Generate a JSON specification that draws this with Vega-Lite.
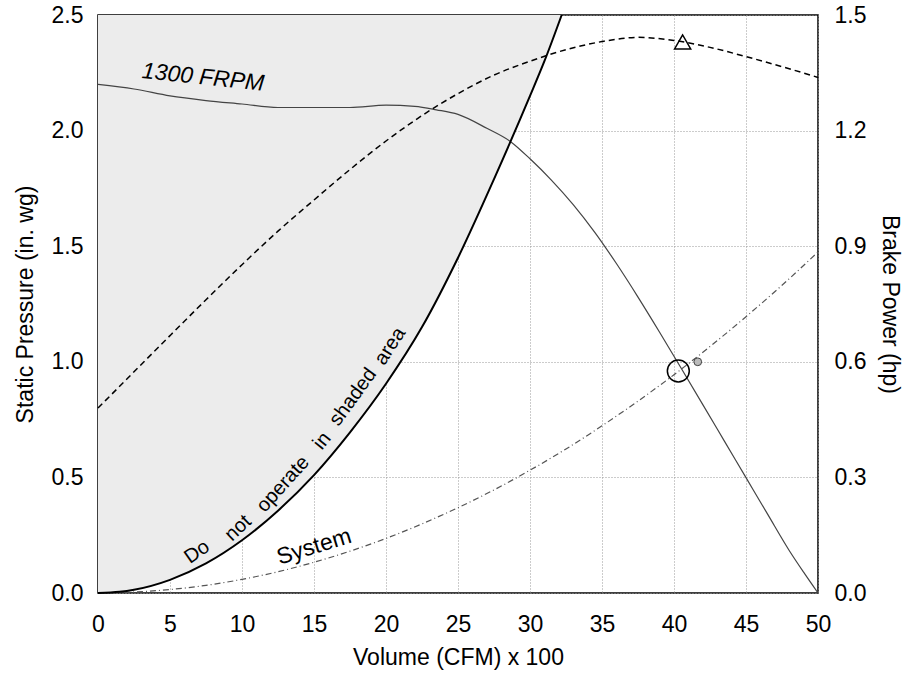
{
  "$schema": "https://vega.github.io/schema/vega-lite/v6.json",
  "width": 720,
  "height": 578,
  "autosize": "none",
  "padding": {"left": 98, "top": 15, "right": 98, "bottom": 85},
  "background": "white",
  "config": {
    "font": "Liberation Sans",
    "view": {"stroke": "#000", "strokeWidth": 1.5},
    "axis": {
      "labelFont": "Liberation Sans",
      "labelFontSize": 23,
      "labelColor": "#000",
      "labelFlush": false,
      "ticks": false,
      "tickSize": 0,
      "domain": false,
      "titleFont": "Liberation Sans",
      "titleFontSize": 23,
      "titleFontWeight": "normal",
      "titleColor": "#000",
      "gridColor": "#999",
      "gridDash": [1, 2],
      "gridWidth": 1
    }
  },
  "datasets": {
    "surge": [
      {"x": 0, "v": 0}, {"x": 1.5, "v": 0.005}, {"x": 2.5, "v": 0.014}, {"x": 5, "v": 0.057}, {"x": 7.5, "v": 0.128},
      {"x": 10, "v": 0.228}, {"x": 12.5, "v": 0.356}, {"x": 15, "v": 0.51}, {"x": 17.5, "v": 0.695},
      {"x": 20, "v": 0.905}, {"x": 22.5, "v": 1.15}, {"x": 25, "v": 1.45}, {"x": 27.5, "v": 1.79},
      {"x": 30, "v": 2.15}, {"x": 31, "v": 2.3}, {"x": 32.2, "v": 2.5}
    ],
    "fan": [
      {"x": 0, "v": 2.2}, {"x": 2.5, "v": 2.18}, {"x": 5, "v": 2.15}, {"x": 7.5, "v": 2.13}, {"x": 10, "v": 2.115},
      {"x": 12.5, "v": 2.1}, {"x": 15, "v": 2.1}, {"x": 17.5, "v": 2.1}, {"x": 20, "v": 2.11}, {"x": 22, "v": 2.105},
      {"x": 23.5, "v": 2.09}, {"x": 25, "v": 2.07}, {"x": 27, "v": 2.01}, {"x": 28.7, "v": 1.95}, {"x": 30, "v": 1.878},
      {"x": 31.5, "v": 1.785}, {"x": 33, "v": 1.68}, {"x": 34.5, "v": 1.56}, {"x": 36, "v": 1.425}, {"x": 37.5, "v": 1.28},
      {"x": 39, "v": 1.128}, {"x": 40.5, "v": 0.972}, {"x": 42, "v": 0.815}, {"x": 43.5, "v": 0.657}, {"x": 45, "v": 0.499},
      {"x": 46.5, "v": 0.341}, {"x": 48, "v": 0.184}, {"x": 49, "v": 0.09}, {"x": 50, "v": 0}
    ],
    "system": [
      {"x": 0, "v": 0}, {"x": 2.5, "v": 0.004}, {"x": 5, "v": 0.015}, {"x": 7.5, "v": 0.033}, {"x": 10, "v": 0.059},
      {"x": 12.5, "v": 0.092}, {"x": 15, "v": 0.133}, {"x": 17.5, "v": 0.181}, {"x": 20, "v": 0.236},
      {"x": 22.5, "v": 0.299}, {"x": 25, "v": 0.369}, {"x": 27.5, "v": 0.446}, {"x": 30, "v": 0.531},
      {"x": 32.5, "v": 0.623}, {"x": 35, "v": 0.723}, {"x": 37.5, "v": 0.83}, {"x": 40, "v": 0.944},
      {"x": 42.5, "v": 1.066}, {"x": 45, "v": 1.195}, {"x": 47.5, "v": 1.331}, {"x": 50, "v": 1.475}
    ],
    "power": [
      {"x": 0, "hp": 0.48}, {"x": 2.5, "hp": 0.574}, {"x": 5, "hp": 0.668}, {"x": 7.5, "hp": 0.761}, {"x": 10, "hp": 0.852},
      {"x": 12.5, "hp": 0.939}, {"x": 15, "hp": 1.02}, {"x": 17.5, "hp": 1.099}, {"x": 20, "hp": 1.173}, {"x": 22.5, "hp": 1.239},
      {"x": 25, "hp": 1.296}, {"x": 27.5, "hp": 1.344}, {"x": 30, "hp": 1.38}, {"x": 32.5, "hp": 1.41}, {"x": 35, "hp": 1.431},
      {"x": 37.5, "hp": 1.442}, {"x": 40, "hp": 1.434}, {"x": 42.5, "hp": 1.416}, {"x": 45, "hp": 1.392}, {"x": 47.5, "hp": 1.366},
      {"x": 50, "hp": 1.338}
    ],
    "labels": [
      {"label": "1300 FRPM", "x": 7.3, "v": 2.23},
      {"label": "Do", "x": 6.88, "v": 0.177},
      {"label": "not", "x": 9.72, "v": 0.281},
      {"label": "operate", "x": 12.85, "v": 0.471},
      {"label": "in", "x": 15.56, "v": 0.658},
      {"label": "shaded", "x": 17.71, "v": 0.848},
      {"label": "area", "x": 20.28, "v": 1.068},
      {"label": "System", "x": 15.0, "v": 0.2}
    ],
    "points": [
      {"kind": "operating", "x": 40.3, "v": 0.96},
      {"kind": "small", "x": 41.65, "v": 1.0}
    ],
    "peak": [{"x": 40.6, "hp": 1.43}]
  },
  "layer": [
    {
      "layer": [
        {
          "data": {"name": "surge"},
          "mark": {"type": "area", "color": "#ececec", "interpolate": "monotone"},
          "encoding": {
            "x": {"field": "x", "type": "quantitative", "scale": {"domain": [0, 50], "nice": false},
                  "axis": {"title": "Volume (CFM) x 100", "values": [0,5,10,15,20,25,30,35,40,45,50], "labelPadding": 20, "titlePadding": 10, "grid": true}},
            "y": {"field": "v", "type": "quantitative", "scale": {"domain": [0, 2.5], "nice": false},
                  "axis": {"title": "Static Pressure (in. wg)", "values": [0,0.5,1,1.5,2,2.5], "format": ".1f", "labelPadding": 15, "titlePadding": 14, "grid": true}},
            "y2": {"datum": 2.5}
          }
        },
        {
          "data": {"name": "fan"},
          "mark": {"type": "line", "color": "#444", "strokeWidth": 1.2, "interpolate": "monotone"},
          "encoding": {"x": {"field": "x", "type": "quantitative"}, "y": {"field": "v", "type": "quantitative"}}
        },
        {
          "data": {"name": "system"},
          "mark": {"type": "line", "color": "#555", "strokeWidth": 1.2, "strokeDash": [6, 3, 1, 3], "interpolate": "monotone"},
          "encoding": {"x": {"field": "x", "type": "quantitative"}, "y": {"field": "v", "type": "quantitative"}}
        },
        {
          "data": {"name": "surge"},
          "mark": {"type": "line", "color": "#000", "strokeWidth": 2, "interpolate": "monotone"},
          "encoding": {"x": {"field": "x", "type": "quantitative"}, "y": {"field": "v", "type": "quantitative"}}
        },
        {
          "data": {"name": "labels"},
          "transform": [{"filter": "datum.label == '1300 FRPM'"}],
          "mark": {"type": "text", "fontSize": 23, "fontStyle": "italic", "angle": 6, "color": "#000"},
          "encoding": {"x": {"field": "x", "type": "quantitative"}, "y": {"field": "v", "type": "quantitative"}, "text": {"field": "label"}}
        },
        {
          "data": {"name": "labels"},
          "transform": [{"filter": "datum.label == 'Do'"}],
          "mark": {"type": "text", "fontSize": 20, "angle": -35, "color": "#000"},
          "encoding": {"x": {"field": "x", "type": "quantitative"}, "y": {"field": "v", "type": "quantitative"}, "text": {"field": "label"}}
        },
        {
          "data": {"name": "labels"},
          "transform": [{"filter": "datum.label == 'not'"}],
          "mark": {"type": "text", "fontSize": 20, "angle": -43, "color": "#000"},
          "encoding": {"x": {"field": "x", "type": "quantitative"}, "y": {"field": "v", "type": "quantitative"}, "text": {"field": "label"}}
        },
        {
          "data": {"name": "labels"},
          "transform": [{"filter": "datum.label == 'operate'"}],
          "mark": {"type": "text", "fontSize": 20, "angle": -48, "color": "#000"},
          "encoding": {"x": {"field": "x", "type": "quantitative"}, "y": {"field": "v", "type": "quantitative"}, "text": {"field": "label"}}
        },
        {
          "data": {"name": "labels"},
          "transform": [{"filter": "datum.label == 'in'"}],
          "mark": {"type": "text", "fontSize": 20, "angle": -51, "color": "#000"},
          "encoding": {"x": {"field": "x", "type": "quantitative"}, "y": {"field": "v", "type": "quantitative"}, "text": {"field": "label"}}
        },
        {
          "data": {"name": "labels"},
          "transform": [{"filter": "datum.label == 'shaded'"}],
          "mark": {"type": "text", "fontSize": 20, "angle": -54, "color": "#000"},
          "encoding": {"x": {"field": "x", "type": "quantitative"}, "y": {"field": "v", "type": "quantitative"}, "text": {"field": "label"}}
        },
        {
          "data": {"name": "labels"},
          "transform": [{"filter": "datum.label == 'area'"}],
          "mark": {"type": "text", "fontSize": 20, "angle": -57, "color": "#000"},
          "encoding": {"x": {"field": "x", "type": "quantitative"}, "y": {"field": "v", "type": "quantitative"}, "text": {"field": "label"}}
        },
        {
          "data": {"name": "labels"},
          "transform": [{"filter": "datum.label == 'System'"}],
          "mark": {"type": "text", "fontSize": 23, "angle": -17, "color": "#000"},
          "encoding": {"x": {"field": "x", "type": "quantitative"}, "y": {"field": "v", "type": "quantitative"}, "text": {"field": "label"}}
        },
        {
          "data": {"name": "points"},
          "transform": [{"filter": "datum.kind == 'operating'"}],
          "mark": {"type": "point", "shape": "circle", "size": 480, "filled": false, "stroke": "#000", "strokeWidth": 1.5, "opacity": 1},
          "encoding": {"x": {"field": "x", "type": "quantitative"}, "y": {"field": "v", "type": "quantitative"}}
        },
        {
          "data": {"name": "points"},
          "transform": [{"filter": "datum.kind == 'small'"}],
          "mark": {"type": "point", "shape": "circle", "size": 60, "filled": true, "fill": "#bbb", "stroke": "#444", "strokeWidth": 1, "opacity": 1},
          "encoding": {"x": {"field": "x", "type": "quantitative"}, "y": {"field": "v", "type": "quantitative"}}
        }
      ]
    },
    {
      "layer": [
        {
          "data": {"name": "power"},
          "mark": {"type": "line", "color": "#000", "strokeWidth": 1.5, "strokeDash": [6, 4], "interpolate": "monotone"},
          "encoding": {
            "x": {"field": "x", "type": "quantitative"},
            "y": {"field": "hp", "type": "quantitative", "scale": {"domain": [0, 1.5], "nice": false},
                  "axis": {"orient": "right", "title": "Brake Power (hp)", "values": [0,0.3,0.6,0.9,1.2,1.5], "format": ".1f", "labelPadding": 16, "titlePadding": 12, "grid": false}}
          }
        },
        {
          "data": {"name": "peak"},
          "mark": {"type": "point", "shape": "triangle-up", "size": 260, "filled": false, "stroke": "#000", "strokeWidth": 1.5, "opacity": 1},
          "encoding": {"x": {"field": "x", "type": "quantitative"}, "y": {"field": "hp", "type": "quantitative"}}
        }
      ]
    }
  ],
  "resolve": {"scale": {"y": "independent"}}
}
